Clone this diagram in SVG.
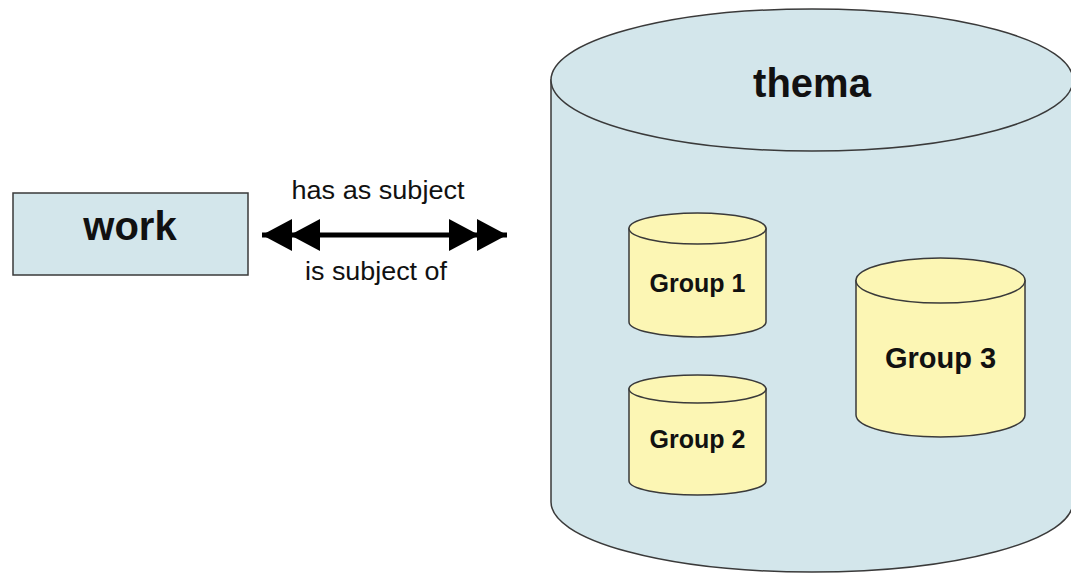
<svg xmlns="http://www.w3.org/2000/svg" width="1071" height="573" viewBox="0 0 1071 573">
<style>
.blue{fill:#d3e6eb;stroke:#3a3a3a;stroke-width:1.5}
.yel{fill:#fcf6b4;stroke:#3a3a3a;stroke-width:1.5}
.lbl{font-family:"Liberation Sans",Arial,sans-serif;font-weight:bold;fill:#111;text-anchor:middle}
.edge{font-family:"Liberation Sans",Arial,sans-serif;fill:#111;text-anchor:middle;font-size:25px}
</style>
<defs>
<marker id="dbl" viewBox="0 0 60 34" refX="58" refY="17" markerWidth="60" markerHeight="34" markerUnits="userSpaceOnUse" orient="auto-start-reverse">
<path d="M0,1 L30,17 L0,33 Z M28,1 L58,17 L28,33 Z" fill="#000"/>
</marker>
</defs>
<rect width="1071" height="573" fill="#fff"/>
<g id="thema">
<path class="blue" d="M551,80 L551,502 A261,70 0 0 0 1073,502 L1073,80 Z"/>
<ellipse class="blue" cx="812" cy="80" rx="261" ry="71"/>
<text class="lbl" x="812" y="97" font-size="40">thema</text>
</g>
<g id="work">
<rect class="blue" x="13" y="193" width="235" height="82"/>
<text class="lbl" x="130" y="240" font-size="40">work</text>
</g>
<g id="group1">
<path class="yel" d="M629,228.5 L629,322 A68.5,15 0 0 0 766,322 L766,228.5 Z"/>
<ellipse class="yel" cx="697.5" cy="228.5" rx="68.5" ry="15.5"/>
<text class="lbl" x="697.5" y="292" font-size="25">Group 1</text>
</g>
<g id="group2">
<path class="yel" d="M629,389 L629,481 A68.5,14 0 0 0 766,481 L766,389 Z"/>
<ellipse class="yel" cx="697.5" cy="389" rx="68.5" ry="14"/>
<text class="lbl" x="697.5" y="448" font-size="25">Group 2</text>
</g>
<g id="group3">
<path class="yel" d="M856,280.5 L856,415 A84.5,22 0 0 0 1025,415 L1025,280.5 Z"/>
<ellipse class="yel" cx="940.5" cy="280.5" rx="84.5" ry="22.5"/>
<text class="lbl" x="940.5" y="368" font-size="29">Group 3</text>
</g>
<g id="connectors">
<line x1="262" y1="235" x2="507" y2="235" stroke="#000" stroke-width="5" marker-start="url(#dbl)" marker-end="url(#dbl)"/>
<text class="edge" x="378" y="199" textLength="173" lengthAdjust="spacingAndGlyphs">has as subject</text>
<text class="edge" x="376" y="280" textLength="142" lengthAdjust="spacingAndGlyphs">is subject of</text>
</g>
</svg>
